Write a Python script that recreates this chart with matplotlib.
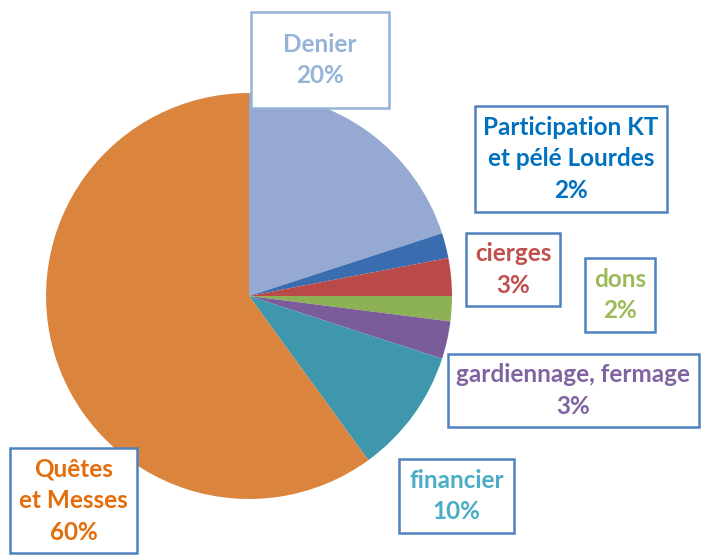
import matplotlib.pyplot as plt
from matplotlib.patches import Rectangle

# Répartition des recettes (%)
labels = ['Denier', 'Participation KT\net pélé Lourdes', 'cierges', 'dons',
          'gardiennage, fermage', 'financier', 'Quêtes\net Messes']
values = [20, 2, 3, 2, 3, 10, 60]
slice_colors = ['#95A9D3', '#3A6DB0', '#B94A48', '#8DB255',
                '#7A5C9A', '#3F97AE', '#DB843D']
text_colors = ['#95B3D7', '#0070C0', '#C0504D', '#9BBB59',
               '#8064A2', '#4BACC6', '#E46C0A']
box_colors = ['#95B3D7'] + ['#4F81BD'] * 6

# label boxes in pixels: x0, y0(top), x1, y1(bottom)
boxes = [(251, 12, 389, 108), (475, 106, 667, 212), (466, 233, 560, 306),
         (585, 258, 655, 332), (448, 354, 699, 427), (399, 459, 514, 533),
         (10, 448, 137, 553)]

W, H = 701, 555
plt.rcParams['font.family'] = ['Lato', 'DejaVu Sans']
fig = plt.figure(figsize=(W / 100, H / 100), dpi=100)

cx, cy, r = 249, 296, 205
ax = fig.add_axes([(cx - r) / W, (H - cy - r) / H, 2 * r / W, 2 * r / H])
ax.pie(values, colors=slice_colors, startangle=90, counterclock=False,
       radius=1, wedgeprops=dict(linewidth=0))
ax.set_xlim(-1.01, 1.01)
ax.set_ylim(-1.01, 1.01)
ax.set_aspect('equal')
ax.axis('off')

for lab, v, tc, bc, (x0, y0, x1, y1) in zip(labels, values, text_colors,
                                            box_colors, boxes):
    fig.patches.append(Rectangle((x0 / W, 1 - y1 / H), (x1 - x0) / W,
                                 (y1 - y0) / H, transform=fig.transFigure,
                                 facecolor='white', edgecolor=bc,
                                 linewidth=1.8, zorder=3))
    fig.text((x0 + x1) / 2 / W, 1 - (y0 + y1) / 2 / H, f'{lab}\n{v}%',
             ha='center', va='center', color=tc, fontsize=17.5,
             fontweight='bold', linespacing=1.45, zorder=4)

fig.savefig('out.png', dpi=100)
